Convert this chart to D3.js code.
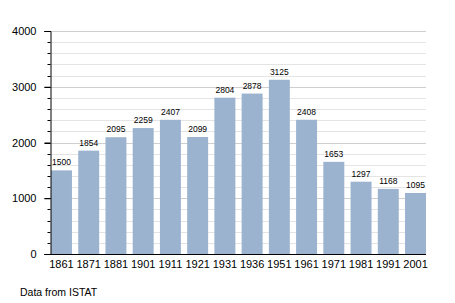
<!DOCTYPE html>
<html>
<head>
<meta charset="utf-8">
<script src="https://cdn.jsdelivr.net/npm/d3@7"></script>
<style>
  body { margin: 0; background: #fff; }
  text { font-family: "Liberation Sans", Arial, sans-serif; fill: #000; }
</style>
</head>
<body>
<script>
// population by census year
var years = ["1861","1871","1881","1901","1911","1921","1931","1936","1951","1961","1971","1981","1991","2001"];
var population = [1500,1854,2095,2259,2407,2099,2804,2878,3125,2408,1653,1297,1168,1095];
var yTicks = [0,1000,2000,3000,4000];
var sourceNote = "Data from ISTAT";

var svg = d3.select("body").append("svg")
    .attr("width", 455)
    .attr("height", 303);

var x = d3.scaleBand()
    .domain(years)
    .range([51, 426])
    .paddingInner(0.23)
    .paddingOuter(0);

var y = d3.scaleLinear()
    .domain([0, 4000])
    .range([254, 31]);

// grid every 200
svg.append("g").selectAll("line")
    .data(d3.range(200, 4001, 200))
    .enter().append("line")
    .attr("x1", 50).attr("x2", 426)
    .attr("y1", function(d){ return Math.round(y(d)) + 0.5; })
    .attr("y2", function(d){ return Math.round(y(d)) + 0.5; })
    .attr("stroke", function(d){ return d % 1000 == 0 ? "#cfcfcf" : "#e4e4e4"; })
    .attr("stroke-width", 1);

svg.append("g").selectAll("rect")
    .data(population)
    .enter().append("rect")
    .attr("x", function(d, i){ return x(years[i]); })
    .attr("width", x.bandwidth())
    .attr("y", function(d){ return y(d); })
    .attr("height", function(d){ return y(0) - y(d); })
    .attr("fill", "#9bb3cf");

svg.append("g").selectAll("text")
    .data(population)
    .enter().append("text")
    .attr("x", function(d, i){ return x(years[i]) + x.bandwidth() / 2; })
    .attr("y", function(d){ return y(d) - 5; })
    .attr("text-anchor", "middle")
    .style("font-size", "8.5px")
    .text(function(d){ return d; });

// y axis with minor ticks
var minor = svg.append("g").attr("transform", "translate(50.5,0)");
minor.selectAll("line")
    .data(d3.range(0, 4001, 200))
    .enter().append("line")
    .attr("x1", function(d){ return d % 1000 == 0 ? -6 : -3; })
    .attr("x2", 0)
    .attr("y1", function(d){ return Math.round(y(d)) + 0.5; })
    .attr("y2", function(d){ return Math.round(y(d)) + 0.5; })
    .attr("stroke", "#000");

var yAxis = d3.axisLeft(y).tickValues(yTicks).tickFormat(d3.format("d")).tickSize(6).tickPadding(8);
var gy = svg.append("g").attr("transform", "translate(50.5,0)").call(yAxis);
gy.select(".domain").attr("stroke", "#000");
gy.selectAll("text").style("font-size", "11px").attr("font-family", "Liberation Sans, Arial, sans-serif");

// x axis
var xAxis = d3.axisBottom(x).tickSize(0).tickPadding(6);
var gx = svg.append("g").attr("transform", "translate(0,254.5)").call(xAxis);
gx.select(".domain").remove();
gx.append("line").attr("x1", 50).attr("x2", 426).attr("stroke", "#000").attr("stroke-width", 1.2);
gx.selectAll("text").style("font-size", "11px").attr("font-family", "Liberation Sans, Arial, sans-serif");

svg.append("text")
    .attr("x", 20)
    .attr("y", 296)
    .style("font-size", "10.5px")
    .text(sourceNote);
</script>
</body>
</html>
